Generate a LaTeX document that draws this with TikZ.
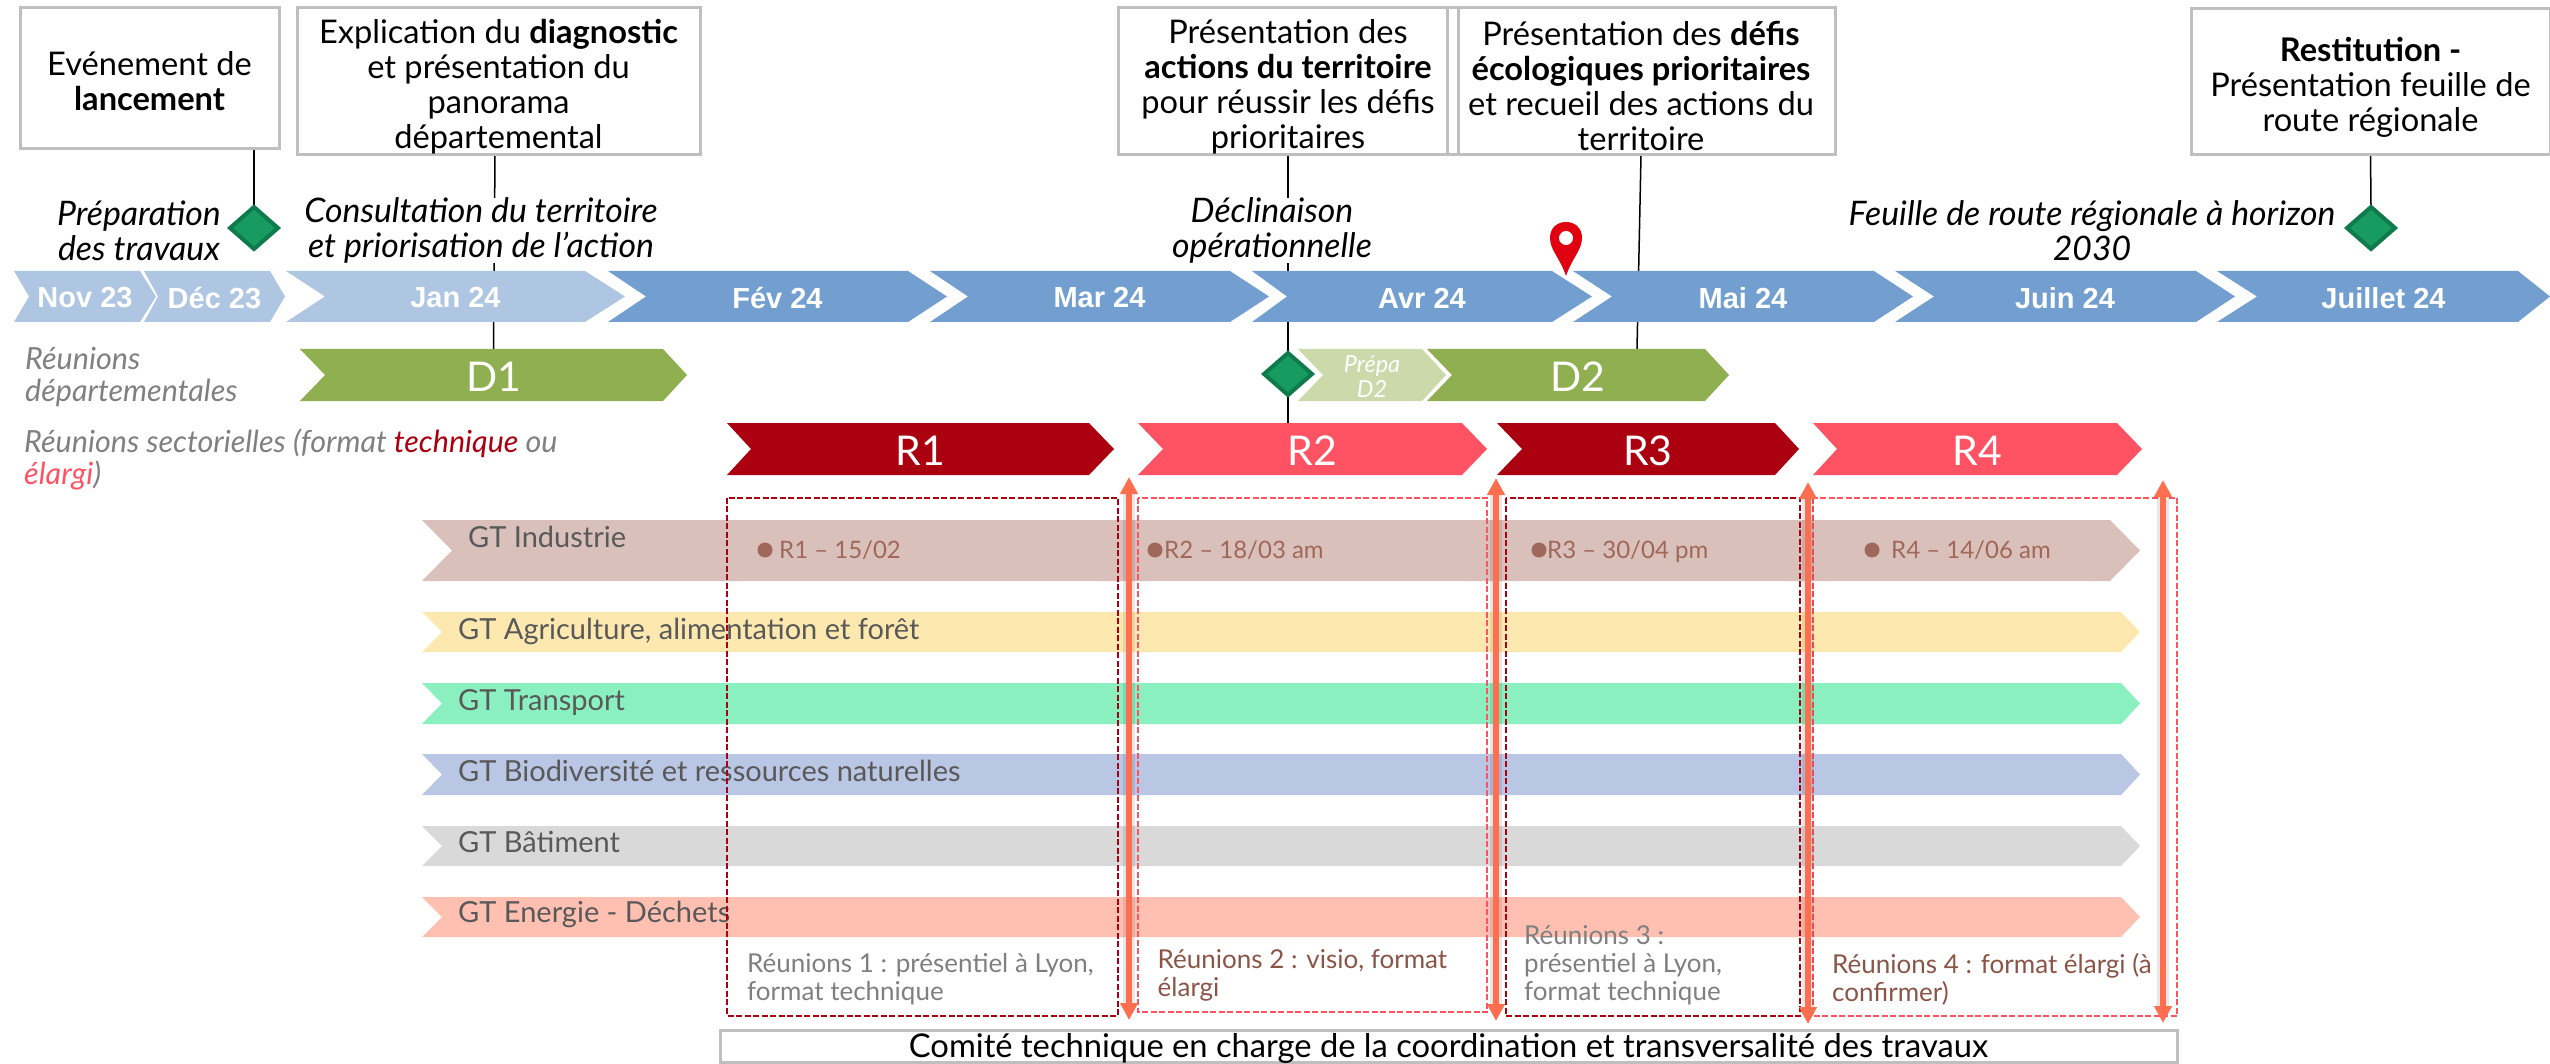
\documentclass[tikz,border=0pt]{standalone}
\usepackage{fontspec}
\setmainfont{Lato}
\newfontfamily\arialfam{Liberation Sans}
\usetikzlibrary{shapes.geometric,arrows.meta,backgrounds}
\definecolor{tlLight}{HTML}{AEC6E2}
\definecolor{tlDark}{HTML}{729FD0}
\definecolor{dGreen}{HTML}{8FAF50}
\definecolor{dLight}{HTML}{CCD9AB}
\definecolor{rDark}{HTML}{AA000F}
\definecolor{rPink}{HTML}{FF5364}
\definecolor{diaFill}{HTML}{189B60}
\definecolor{diaLine}{HTML}{0F7A4B}
\definecolor{gtA}{HTML}{D9C0BA}
\definecolor{gtB}{HTML}{FDE9B0}
\definecolor{gtC}{HTML}{8AF0C0}
\definecolor{gtD}{HTML}{B9C6E4}
\definecolor{gtE}{HTML}{D9D9D9}
\definecolor{gtF}{HTML}{FFC0B2}
\definecolor{boxLine}{HTML}{BFBFBF}
\definecolor{gtText}{HTML}{595959}
\definecolor{dateText}{HTML}{A0685A}
\definecolor{noteGrey}{HTML}{7F7F7F}
\definecolor{noteBrown}{HTML}{8A5547}
\definecolor{sideGrey}{HTML}{808080}
\definecolor{arrowOr}{HTML}{FF6F4F}
\definecolor{pinRed}{HTML}{E00010}
\newcommand{\chev}[9]{%
  \fill[#2] (#3,#7) -- (#5,#7) -- (#6,{(#7+#8)/2}) -- (#5,#8) -- (#3,#8) -- (#4,{(#7+#8)/2}) -- cycle;
  \node[chevlabel] (#1) at ({(#3+#6)/2},{(#7+#8)/2+1.5}) {#9};
  \coordinate (#1-t) at ({(#3+#6)/2},#7);
}
\newcommand{\monlab}{\arialfam\bfseries\fontsize{29}{29}\selectfont}
\newcommand{\biglab}{\fontsize{41}{41}\selectfont}
\newcommand{\lowr}[1]{\rule{0pt}{#1pt}}
\tikzset{
  chevlabel/.style={text=white,inner sep=0pt,outer sep=0pt,align=center},
  evbox/.style={draw=boxLine,line width=3pt,inner sep=0pt,outer sep=0pt,align=center,font=\fontsize{32.6}{35}\selectfont,text=black},
  phase/.style={fill=white,inner sep=0pt,outer sep=0pt,align=center,font=\fontsize{33.8}{35}\selectfont\itshape,text=black},
  side/.style={anchor=west,inner sep=0pt,align=left,font=\fontsize{30.5}{32}\selectfont\itshape,text=sideGrey},
  gtlab/.style={anchor=base west,inner sep=0pt,text=gtText,font=\fontsize{29}{29}\selectfont},
  datelab/.style={anchor=base west,inner sep=0pt,text=dateText,font=\fontsize{24}{25}\selectfont},
  datedot/.style={circle,fill=dateText,minimum size=15pt,inner sep=0pt},
  note/.style={anchor=west,inner sep=0pt,align=left,font=\fontsize{26}{28}\selectfont},
  dia/.style={diamond,fill=diaFill,draw=diaLine,line width=4pt,inner sep=0pt,outer sep=0pt,minimum width=48pt,minimum height=42pt,aspect=1.14},
  link/.style={draw=black,line width=1.5pt},
  dashDark/.style={draw=rDark,line width=2pt,dash pattern=on 6pt off 2.5pt},
  dashPink/.style={draw=rPink,line width=2pt,dash pattern=on 6pt off 2.5pt},
  comShade/.style={draw=black,draw opacity=0.09,line width=12pt},
  comArrow/.style={draw=arrowOr,line width=6pt,{Triangle[width=17pt,length=17pt]}-{Triangle[width=17pt,length=17pt]}},
}
\begin{document}
\begin{tikzpicture}[x=1pt,y=-1pt]
\useasboundingbox (0,0) rectangle (2550,1064);
% event boxes
\node[evbox,minimum width=259pt,minimum height=141pt] (b1) at (149.5,78.5) {\lowr{29}Evénement de\\\textbf{lancement}};
\node[evbox,minimum width=403pt,minimum height=147pt] (b2) at (498.5,81.5) {\lowr{34}Explication du \textbf{diagnostic}\\et présentation du\\panorama\\départemental};
\node[evbox,minimum width=340pt,minimum height=147pt] (b3) at (1288,81.5) {\lowr{34}Présentation des\\\textbf{actions du territoire}\\pour réussir les défis\\prioritaires};
\node[evbox,minimum width=388pt,minimum height=147pt] (b4) at (1641,81.5) {\lowr{34}Présentation des \textbf{défis}\\\textbf{écologiques prioritaires}\\et recueil des actions du\\territoire};
\node[evbox,minimum width=359pt,minimum height=146pt] (b5) at (2370.5,82) {\lowr{34}\textbf{Restitution -}\\Présentation feuille de\\route régionale};
% timeline
\chev{nov}{tlLight}{14}{29}{140}{156}{271}{322}{\monlab Nov 23}
\chev{dec}{tlLight}{144}{158}{270}{285}{271}{322}{\monlab Déc 23}
\chev{jan}{tlLight}{286}{325}{585}{625}{271}{322}{\monlab Jan 24}
\chev{fev}{tlDark}{608}{646}{908}{947}{271}{322}{\monlab Fév 24}
\chev{mar}{tlDark}{930}{968}{1230}{1269}{271}{322}{\monlab Mar 24}
\chev{avr}{tlDark}{1252}{1287}{1552}{1592}{271}{322}{\monlab Avr 24}
\chev{mai}{tlDark}{1573}{1612}{1874}{1913}{271}{322}{\monlab Mai 24}
\chev{jui}{tlDark}{1895}{1934}{2196}{2235}{271}{322}{\monlab Juin 24}
\chev{jul}{tlDark}{2217}{2257}{2518}{2550}{271}{322}{\monlab Juillet 24}
% departmental and sector meetings
\chev{D1}{dGreen}{300}{325}{663}{687}{349}{401}{\biglab D1}
\chev{pD2}{dLight}{1298}{1323}{1422}{1446}{349}{401}{\fontsize{23.5}{25}\selectfont\itshape Prépa\\[3pt]\fontsize{23.5}{25}\selectfont\itshape D2}
\chev{D2}{dGreen}{1427}{1452}{1705}{1729}{349}{401}{\biglab D2}
\chev{R1}{rDark}{727}{751}{1089}{1114}{423}{475}{\biglab R1}
\chev{R2}{rPink}{1138}{1163}{1462}{1487}{423}{475}{\biglab R2}
\chev{R3}{rDark}{1497}{1522}{1775}{1799}{423}{475}{\biglab R3}
\chev{R4}{rPink}{1813}{1837}{2117}{2142}{423}{475}{\biglab R4}
% working-group bars
\chev{g1}{gtA}{422}{452}{2110}{2140}{520}{581}{}
\chev{g2}{gtB}{422}{442}{2121}{2140}{612}{652}{}
\chev{g3}{gtC}{422}{442}{2121}{2140}{683}{724}{}
\chev{g4}{gtD}{422}{442}{2121}{2140}{754}{795}{}
\chev{g5}{gtE}{422}{442}{2121}{2140}{826}{866}{}
\chev{g6}{gtF}{422}{442}{2121}{2140}{897}{937}{}
\node[gtlab] (t1) at (468,547) {GT Industrie};
\node[gtlab] (t2) at (458,639) {GT Agriculture, alimentation et forêt};
\node[gtlab] (t3) at (458,710) {GT Transport};
\node[gtlab] (t4) at (458,781) {GT Biodiversité et ressources naturelles};
\node[gtlab] (t5) at (458,852) {GT Bâtiment};
\node[gtlab] (t6) at (458,922) {GT Energie - Déchets};
% dated meetings
\node[datedot] (p1) at (765,550) {};
\node[datelab] (q1) at (779,558) {R1 – 15/02};
\node[datedot] (p2) at (1155,550) {};
\node[datelab] (q2) at (1164,558) {R2 – 18/03 am};
\node[datedot] (p3) at (1539,550) {};
\node[datelab] (q3) at (1547,558) {R3 – 30/04 pm};
\node[datedot] (p4) at (1872,550) {};
\node[datelab] (q4) at (1891,558) {R4 – 14/06 am};
% dashed frames
\draw[dashDark] (727,497.5) rectangle (1118,1015.5);
\draw[dashPink] (1138,497.5) rectangle (1487,1012);
\draw[dashDark] (1505.5,497.5) rectangle (1800,1015.5);
\draw[dashPink] (1813,497.5) rectangle (2177,1015.5);
% coordination arrows
\coordinate (a1t) at (1129,477); \coordinate (a1b) at (1129,1020);
\coordinate (a2t) at (1496,478); \coordinate (a2b) at (1496,1021);
\coordinate (a3t) at (1808,482); \coordinate (a3b) at (1808,1024);
\coordinate (a4t) at (2163,480); \coordinate (a4b) at (2163,1023);
\draw[comShade] ([yshift=-16pt]a1t) -- ([yshift=16pt]a1b);
\draw[comShade] ([yshift=-16pt]a2t) -- ([yshift=16pt]a2b);
\draw[comShade] ([yshift=-16pt]a3t) -- ([yshift=16pt]a3b);
\draw[comShade] ([yshift=-16pt]a4t) -- ([yshift=16pt]a4b);
\draw[comArrow] (a1t) -- (a1b);
\draw[comArrow] (a2t) -- (a2b);
\draw[comArrow] (a3t) -- (a3b);
\draw[comArrow] (a4t) -- (a4b);
% notes
\node[note,text=noteGrey] (n1) at (747,979) {Réunions 1 : présentiel à Lyon,\\format technique};
\node[note,text=noteBrown] (n2) at (1157.5,975) {Réunions 2 : visio, format\\élargi};
\node[note,text=noteGrey] (n3) at (1524,965) {Réunions 3 :\\présentiel à Lyon,\\format technique};
\node[note,text=noteBrown] (n4) at (1832,979) {Réunions 4 : format élargi (à\\confirmer)};
% bottom box
\node[draw=boxLine,line width=3pt,inner sep=0pt,outer sep=0pt,minimum width=1457pt,minimum height=31.5pt,text height=24pt,text depth=2pt,font=\fontsize{32.7}{33}\selectfont,text=black] (com) at (1448.5,1046.5) {Comité technique en charge de la coordination et transversalité des travaux};
% phase labels
\node[phase] (l1) at (139,230.5) {Préparation\\des travaux};
\node[phase] (l2) at (481,230.5) {Consultation du territoire\\et priorisation de l’action};
\node[phase] (l3) at (1272,230.5) {Déclinaison\\opérationnelle};
\node[phase] (l4) at (2092,230.5) {Feuille de route régionale à horizon\\2030};
% side labels
\node[side] (s1) at (25,377) {Réunions\\départementales};
\node[side] (s2) at (24,459.5) {Réunions sectorielles (format \textcolor{rDark}{technique} ou\\\textcolor{rPink}{élargi})};
% milestones
\node[dia] (d1) at (254,228) {};
\node[dia] (d2) at (1288,374) {};
\node[dia] (d3) at (2371,228) {};
% pin
\fill[pinRed] (1566,276) .. controls (1560,258) and (1550,250) .. (1550,238) .. controls (1550,228) and (1557,222) .. (1566,222) .. controls (1575,222) and (1582,228) .. (1582,238) .. controls (1582,250) and (1572,258) .. (1566,276) -- cycle;
\fill[white] (1566,238) circle (7);
% connectors behind everything
\begin{pgfonlayer}{background}
\draw[link] (d1 |- b1.south) -- (d1.north);
\draw[link] ([xshift=-3.5pt]b2.south) -- (D1-t);
\draw[link] (b3.south) -- (d2.north);
\draw[link] (d2.south) -- (d2 |- R2-t);
\draw[link] (b4.south) -- ([xshift=59pt]D2-t);
\draw[link] (b5.south) -- (d3.north);
\end{pgfonlayer}
\end{tikzpicture}
\end{document}
